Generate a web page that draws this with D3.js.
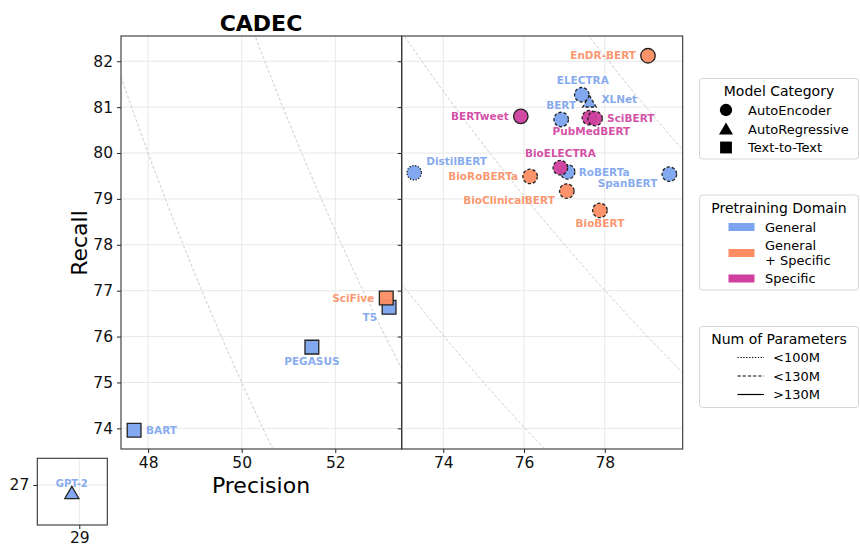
<!DOCTYPE html>
<html>
<head>
<meta charset="utf-8">
<script src="https://cdn.jsdelivr.net/npm/d3@7"></script>
<style>
  body { margin: 0; background: #fff; }
  svg text { font-family: "DejaVu Sans", sans-serif; }
</style>
</head>
<body>
<svg id="chart" width="860" height="546"></svg>
<script>
// model names, precision/recall, category, domain, size class
var models    = ["BART", "PEGASUS", "T5", "SciFive", "GPT-2", "DistilBERT", "BioRoBERTa", "BioClinicalBERT", "BioBERT",
                 "RoBERTa", "BioELECTRA", "SpanBERT", "BERT", "BERTweet", "PubMedBERT", "SciBERT", "XLNet", "ELECTRA", "EnDR-BERT"];
var precision = [47.70, 51.50, 53.15, 53.09, 28.84, 73.28, 76.15, 77.06, 77.88,
                 77.08, 76.90, 79.60, 76.92, 75.92, 77.62, 77.76, 77.62, 77.43, 79.07];
var recall    = [73.96, 75.77, 76.64, 76.84, 26.88, 79.57, 79.49, 79.17, 78.75,
                 79.59, 79.68, 79.54, 80.73, 80.80, 80.77, 80.75, 81.12, 81.27, 82.12];
var category  = ["Text-to-Text", "Text-to-Text", "Text-to-Text", "Text-to-Text", "AutoRegressive", "AutoEncoder", "AutoEncoder", "AutoEncoder", "AutoEncoder",
                 "AutoEncoder", "AutoEncoder", "AutoEncoder", "AutoEncoder", "AutoEncoder", "AutoEncoder", "AutoEncoder", "AutoRegressive", "AutoEncoder", "AutoEncoder"];
var domain    = ["General", "General", "General", "General + Specific", "General", "General", "General + Specific", "General + Specific", "General + Specific",
                 "General", "Specific", "General", "General", "Specific", "Specific", "Specific", "General", "General", "General + Specific"];
var params    = [">130M", ">130M", ">130M", ">130M", ">130M", "<100M", "<130M", "<130M", "<130M",
                 "<130M", "<130M", "<130M", "<130M", ">130M", "<130M", "<130M", "<130M", "<130M", ">130M"];

var categories = ["AutoEncoder", "AutoRegressive", "Text-to-Text"];
var domains    = ["General", "General + Specific", "Specific"];
var paramSizes = ["<100M", "<130M", ">130M"];
var isoF1      = [60, 62.5, 75, 77.5, 80];

var leftXTicks  = [48, 50, 52];
var rightXTicks = [74, 76, 78];
var yTicks      = [74, 75, 76, 77, 78, 79, 80, 81, 82];

// label placement (pixel offset from marker, text-anchor)
var labelPos = {
  "BART": [12, 0, "start"], "PEGASUS": [0, 14, "middle"], "T5": [-12, 10, "end"], "SciFive": [-12, 0, "end"],
  "GPT-2": [0, -9.5, "middle"], "DistilBERT": [12, -11.5, "start"], "BioRoBERTa": [-12, 0, "end"],
  "BioClinicalBERT": [-12, 9.5, "end"], "BioBERT": [0, 12.5, "middle"], "RoBERTa": [11, 0, "start"],
  "BioELECTRA": [0, -14.5, "middle"], "SpanBERT": [-12, 9.5, "end"], "BERT": [0, -14.5, "middle"],
  "BERTweet": [-12, 0, "end"], "PubMedBERT": [2, 13.5, "middle"], "SciBERT": [12, 0, "start"],
  "XLNet": [12, -2, "start"], "ELECTRA": [1, -14, "middle"], "EnDR-BERT": [-12, 0, "end"]
};

var colour = d3.scaleOrdinal().domain(domains).range(["#7ba3ee", "#fc8d62", "#cf3f9d"]);
var dash = d3.scaleOrdinal().domain(paramSizes).range(["1.3,1.6", "3.2,2", null]);
var shape = d3.scaleOrdinal().domain(categories).range([d3.symbolCircle, d3.symbolTriangle, d3.symbolSquare]);
var symSize = { "AutoEncoder": 165, "AutoRegressive": 78, "Text-to-Text": 190 };

var svg = d3.select("#chart");
var plotTop = 36, plotBottom = 449;
var y = d3.scaleLinear().domain([73.55, 82.55]).range([plotBottom, plotTop]);
var xL = d3.scaleLinear().domain([47.42, 53.42]).range([121, 401.7]);
var xR = d3.scaleLinear().domain([72.97, 79.93]).range([401.7, 682.7]);

var xIn = d3.scaleLinear().domain([28.1, 29.6]).range([37.3, 107.3]);
var yIn = d3.scaleLinear().domain([26.4, 27.4]).range([525, 458.3]);

function styleAxis(a) {
  a.select(".domain").remove();
  a.selectAll("text").attr("font-size", 15.5).attr("fill", "#111");
  a.selectAll("line").attr("stroke", "#222");
}

function panel(x, xTicks, clipId, showYLabels) {
  var g = svg.append("g");
  var x0 = x.range()[0], x1 = x.range()[1];
  g.append("clipPath").attr("id", clipId).append("rect")
    .attr("x", x0).attr("y", plotTop).attr("width", x1 - x0).attr("height", plotBottom - plotTop);

  // grid
  g.append("g").selectAll("line").data(xTicks).join("line")
    .attr("x1", function (d) { return x(d); }).attr("x2", function (d) { return x(d); })
    .attr("y1", plotTop).attr("y2", plotBottom).attr("stroke", "#e8e8e8").attr("stroke-width", 1);
  g.append("g").selectAll("line").data(yTicks).join("line")
    .attr("x1", x0).attr("x2", x1)
    .attr("y1", function (d) { return y(d); }).attr("y2", function (d) { return y(d); })
    .attr("stroke", "#e8e8e8").attr("stroke-width", 1);

  // iso-F1 curves
  var line = d3.line().x(function (d) { return x(d[0]); }).y(function (d) { return y(d[1]); });
  var dom = x.domain();
  isoF1.forEach(function (f) {
    var pts = [];
    for (var p = dom[0]; p <= dom[1] + 0.001; p += 0.02) {
      if (2 * p - f <= 0) continue;
      pts.push([p, f * p / (2 * p - f)]);
    }
    g.append("path").attr("d", line(pts)).attr("clip-path", "url(#" + clipId + ")")
      .attr("fill", "none").attr("stroke", "#c4c4c4").attr("stroke-width", 0.9)
      .attr("stroke-dasharray", "3,2");
  });

  // axes
  var ax = g.append("g").attr("transform", "translate(0," + plotBottom + ")")
    .call(d3.axisBottom(x).tickValues(xTicks).tickSize(4).tickPadding(4).tickFormat(d3.format("d")));
  var ay = g.append("g").attr("transform", "translate(" + x0 + ",0)")
    .call(d3.axisLeft(y).tickValues(yTicks).tickSize(4).tickPadding(4)
      .tickFormat(showYLabels ? d3.format("d") : ""));
  styleAxis(ax);
  styleAxis(ay);

  g.append("rect").attr("x", x0).attr("y", plotTop).attr("width", x1 - x0).attr("height", plotBottom - plotTop)
    .attr("fill", "none").attr("stroke", "#333").attr("stroke-width", 1.1);
  return g;
}

panel(xL, leftXTicks, "clipL", true);
panel(xR, rightXTicks, "clipR", false);

// inset for GPT-2
var gi = svg.append("g");
gi.append("line").attr("x1", xIn(29)).attr("x2", xIn(29)).attr("y1", 458.3).attr("y2", 525)
  .attr("stroke", "#e8e8e8");
gi.append("line").attr("x1", 37.3).attr("x2", 107.3).attr("y1", yIn(27)).attr("y2", yIn(27))
  .attr("stroke", "#e8e8e8");
var axi = gi.append("g").attr("transform", "translate(0,525)")
  .call(d3.axisBottom(xIn).tickValues([29]).tickSize(4).tickPadding(3).tickFormat(d3.format("d")));
var ayi = gi.append("g").attr("transform", "translate(37.3,0)")
  .call(d3.axisLeft(yIn).tickValues([27]).tickSize(4).tickPadding(4).tickFormat(d3.format("d")));
styleAxis(axi);
styleAxis(ayi);
gi.append("rect").attr("x", 37.3).attr("y", 458.3).attr("width", 70).attr("height", 66.7)
  .attr("fill", "none").attr("stroke", "#333").attr("stroke-width", 1.1);

// markers
var rows = models.map(function (m, i) {
  return { name: m, p: precision[i], r: recall[i], cat: category[i], dom: domain[i], par: params[i] };
});

function pos(d) {
  if (d.name === "GPT-2") return [xIn(d.p), yIn(d.r)];
  if (d.p < 60) return [xL(d.p), y(d.r)];
  return [xR(d.p), y(d.r)];
}

var marks = svg.append("g");
rows.forEach(function (d) {
  var c = pos(d);
  var s = d3.symbol().type(shape(d.cat)).size(symSize[d.cat] * (d.name === "GPT-2" ? 1.1 : 1));
  marks.append("path").attr("d", s())
    .attr("transform", "translate(" + c[0] + "," + (c[1] + (d.cat === "AutoRegressive" ? 1.5 : 0)) + ")")
    .attr("fill", colour(d.dom)).attr("fill-opacity", 0.95)
    .attr("stroke", "#222").attr("stroke-width", 1.3)
    .attr("stroke-dasharray", dash(d.par));
});

var labels = svg.append("g");
rows.forEach(function (d) {
  var c = pos(d), lp = labelPos[d.name];
  labels.append("text").text(d.name)
    .attr("x", c[0] + lp[0]).attr("y", c[1] + lp[1]).attr("dy", "0.35em")
    .attr("text-anchor", lp[2])
    .attr("font-size", d.name === "GPT-2" ? 10 : 10.5).attr("font-weight", "bold")
    .attr("fill", colour(d.dom)).attr("fill-opacity", 0.92);
});

// title & axis labels
svg.append("text").attr("x", 261).attr("y", 31).attr("text-anchor", "middle")
  .attr("font-size", 22).attr("font-weight", "bold").text("CADEC");
svg.append("text").attr("transform", "translate(87,243) rotate(-90)").attr("text-anchor", "middle")
  .attr("font-size", 22).text("Recall");
svg.append("text").attr("x", 261).attr("y", 493).attr("text-anchor", "middle")
  .attr("font-size", 22).text("Precision");

// legends
function legendBox(y0, h, title) {
  var g = svg.append("g");
  g.append("rect").attr("x", 699.5).attr("y", y0).attr("width", 159).attr("height", h)
    .attr("rx", 3).attr("fill", "#fff").attr("stroke", "#d6d6d6");
  g.append("text").attr("x", 779).attr("y", y0 + 13).attr("dy", "0.35em").attr("text-anchor", "middle")
    .attr("font-size", 14).text(title);
  return g;
}

var lg1 = legendBox(78.5, 80.5, "Model Category");
categories.forEach(function (c, i) {
  var yy = [110, 129, 147.5][i];
  lg1.append("path").attr("d", d3.symbol().type(shape(c)).size([120, 85, 140][i])())
    .attr("transform", "translate(726," + (yy + (i === 1 ? 1.5 : 0)) + ")").attr("fill", "#000");
  lg1.append("text").attr("x", 748).attr("y", yy).attr("dy", "0.35em").attr("font-size", 13).text(c);
});

var lg2 = legendBox(195, 95, "Pretraining Domain");
domains.forEach(function (d, i) {
  var yy = [227, 253, 278.5][i];
  lg2.append("rect").attr("x", 728.5).attr("y", yy - 4).attr("width", 26).attr("height", 8)
    .attr("fill", colour(d));
  if (i === 1) {
    lg2.append("text").attr("x", 765).attr("y", 245).attr("dy", "0.35em").attr("font-size", 13).text("General");
    lg2.append("text").attr("x", 765).attr("y", 260).attr("dy", "0.35em").attr("font-size", 13).text("+ Specific");
  } else {
    lg2.append("text").attr("x", 765).attr("y", yy).attr("dy", "0.35em").attr("font-size", 13).text(d);
  }
});

var lg3 = legendBox(326.5, 81, "Num of Parameters");
paramSizes.forEach(function (p, i) {
  var yy = [357.5, 376, 394.5][i];
  lg3.append("line").attr("x1", 737.5).attr("x2", 764).attr("y1", yy).attr("y2", yy)
    .attr("stroke", "#000").attr("stroke-width", 1.2).attr("stroke-dasharray", dash(p));
  lg3.append("text").attr("x", 773).attr("y", yy).attr("dy", "0.35em").attr("font-size", 13).text(p);
});
</script>
</body>
</html>
